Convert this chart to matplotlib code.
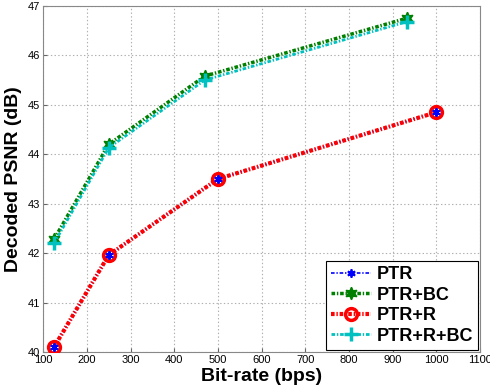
import matplotlib.pyplot as plt

plt.rcParams['font.family'] = ['Liberation Sans', 'DejaVu Sans']
plt.rcParams['lines.scale_dashes'] = False

rate_a = [125, 250, 500, 1000]
ptr = [40.1, 41.96, 43.5, 44.85]
ptr_r = [40.1, 41.96, 43.5, 44.85]
rate_b = [125, 250, 470, 932]
ptr_bc = [42.28, 44.2, 45.58, 46.75]
ptr_r_bc = [42.2, 44.13, 45.5, 46.68]

xticks = [100, 200, 300, 400, 500, 600, 700, 800, 900, 1000, 1100]
yticks = [40, 41, 42, 43, 44, 45, 46, 47]

dd = (0, (2.6, 1.3, 1.0, 1.3))

fig = plt.figure(figsize=(4.9, 3.92), dpi=100)
ax = fig.add_axes([0.088, 0.102, 0.892, 0.883])

ax.plot(rate_b, ptr_bc, ls=dd, color='#008000', lw=2.5, marker=(6, 1, 0),
        ms=9, mfc='#008000', mec='#008000', label='PTR+BC', zorder=3)
ax.plot(rate_b, ptr_r_bc, ls=dd, color='#00c0c0', lw=2, marker='+',
        ms=10, mew=2.5, label='PTR+R+BC', zorder=4)
ax.plot(rate_a, ptr_r, ls=dd, color='red', lw=3, marker='o', ms=8.5,
        mfc='none', mec='red', mew=2.5, label='PTR+R', zorder=3)
# blue line sits under the red one, its markers on top
ax.plot(rate_a, ptr, ls=dd, color='blue', lw=1.2,
        marker=(6, 2, 0), ms=6, mew=1.3, label='PTR', zorder=2)
ax.plot(rate_a, ptr, ls='none', color='blue',
        marker=(6, 2, 0), ms=6, mew=1.3, zorder=5)

ax.set_xlim(100, 1100)
ax.set_ylim(40, 47)
ax.set_xticks(xticks)
ax.set_yticks(yticks)
ax.tick_params(labelsize=8, direction='in', length=3, color='#666666', pad=2)
ax.grid(True, ls=':', color='#b0b0b0', lw=0.8)
for s in ax.spines.values():
    s.set_color('#888888')

ax.set_xlabel('Bit-rate (bps)', fontsize=14, fontweight='bold', labelpad=2)
ax.set_ylabel('Decoded PSNR (dB)', fontsize=14, fontweight='bold', labelpad=4)

h, l = ax.get_legend_handles_labels()
order = [3, 0, 2, 1]
leg = ax.legend([h[i] for i in order], [l[i] for i in order], loc='lower right',
                prop={'size': 13, 'weight': 'bold'}, fancybox=False,
                edgecolor='black', framealpha=1, handlelength=2.2,
                handletextpad=0.3, borderpad=0.3, labelspacing=0.2,
                borderaxespad=0.1)
leg.get_frame().set_linewidth(0.8)

fig.savefig('out.png')
